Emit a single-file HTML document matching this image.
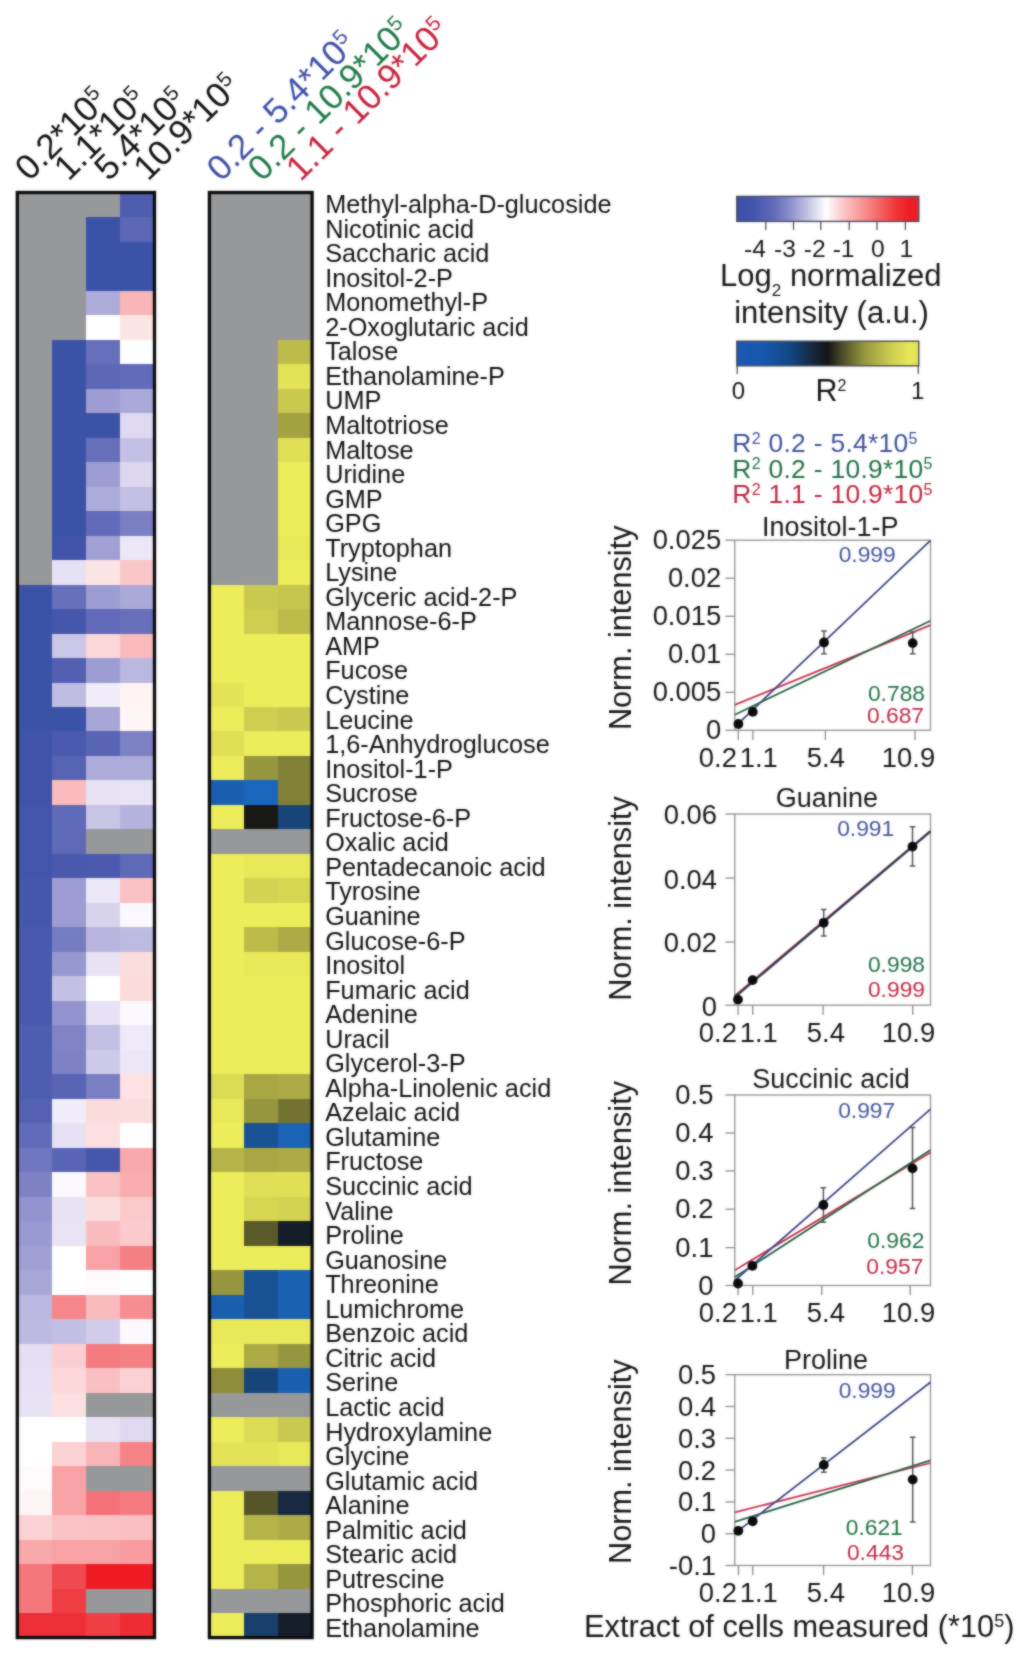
<!DOCTYPE html>
<html lang="en">
<head>
<meta charset="utf-8">
<title>Figure</title>
<style>
html,body{margin:0;padding:0;background:#fff;}
body{width:1024px;height:1653px;overflow:hidden;font-family:"Liberation Sans",sans-serif;}
svg{display:block;}
</style>
</head>
<body>
<svg width="1024" height="1653" viewBox="0 0 1024 1653">
<rect width="1024" height="1653" fill="#fff"/>
<defs><filter id="soft" x="0" y="0" width="1024" height="1653" filterUnits="userSpaceOnUse" color-interpolation-filters="sRGB"><feGaussianBlur stdDeviation="0.9" result="b"/><feComposite in="SourceGraphic" in2="b" operator="arithmetic" k1="0" k2="0.45" k3="0.55" k4="0"/></filter></defs>
<g filter="url(#soft)">
<rect width="1024" height="1653" fill="#fff"/>
<g shape-rendering="crispEdges">
<rect x="17.50" y="192.70" width="34.50" height="24.79" fill="#97989a"/>
<rect x="51.70" y="192.70" width="34.50" height="24.79" fill="#97989a"/>
<rect x="85.90" y="192.70" width="34.50" height="24.79" fill="#97989a"/>
<rect x="120.10" y="192.70" width="34.50" height="24.79" fill="#4f5db0"/>
<rect x="209.60" y="192.70" width="34.40" height="24.79" fill="#97989a"/>
<rect x="243.70" y="192.70" width="34.40" height="24.79" fill="#97989a"/>
<rect x="277.80" y="192.70" width="34.40" height="24.79" fill="#97989a"/>
<rect x="17.50" y="217.19" width="34.50" height="24.79" fill="#97989a"/>
<rect x="51.70" y="217.19" width="34.50" height="24.79" fill="#97989a"/>
<rect x="85.90" y="217.19" width="34.50" height="24.79" fill="#3b53a7"/>
<rect x="120.10" y="217.19" width="34.50" height="24.79" fill="#5c67b6"/>
<rect x="209.60" y="217.19" width="34.40" height="24.79" fill="#97989a"/>
<rect x="243.70" y="217.19" width="34.40" height="24.79" fill="#97989a"/>
<rect x="277.80" y="217.19" width="34.40" height="24.79" fill="#97989a"/>
<rect x="17.50" y="241.68" width="34.50" height="24.79" fill="#97989a"/>
<rect x="51.70" y="241.68" width="34.50" height="24.79" fill="#97989a"/>
<rect x="85.90" y="241.68" width="34.50" height="24.79" fill="#3b53a7"/>
<rect x="120.10" y="241.68" width="34.50" height="24.79" fill="#3b53a7"/>
<rect x="209.60" y="241.68" width="34.40" height="24.79" fill="#97989a"/>
<rect x="243.70" y="241.68" width="34.40" height="24.79" fill="#97989a"/>
<rect x="277.80" y="241.68" width="34.40" height="24.79" fill="#97989a"/>
<rect x="17.50" y="266.17" width="34.50" height="24.79" fill="#97989a"/>
<rect x="51.70" y="266.17" width="34.50" height="24.79" fill="#97989a"/>
<rect x="85.90" y="266.17" width="34.50" height="24.79" fill="#3b53a7"/>
<rect x="120.10" y="266.17" width="34.50" height="24.79" fill="#3b53a7"/>
<rect x="209.60" y="266.17" width="34.40" height="24.79" fill="#97989a"/>
<rect x="243.70" y="266.17" width="34.40" height="24.79" fill="#97989a"/>
<rect x="277.80" y="266.17" width="34.40" height="24.79" fill="#97989a"/>
<rect x="17.50" y="290.66" width="34.50" height="24.79" fill="#97989a"/>
<rect x="51.70" y="290.66" width="34.50" height="24.79" fill="#97989a"/>
<rect x="85.90" y="290.66" width="34.50" height="24.79" fill="#adabda"/>
<rect x="120.10" y="290.66" width="34.50" height="24.79" fill="#f9b4b7"/>
<rect x="209.60" y="290.66" width="34.40" height="24.79" fill="#97989a"/>
<rect x="243.70" y="290.66" width="34.40" height="24.79" fill="#97989a"/>
<rect x="277.80" y="290.66" width="34.40" height="24.79" fill="#97989a"/>
<rect x="17.50" y="315.15" width="34.50" height="24.79" fill="#97989a"/>
<rect x="51.70" y="315.15" width="34.50" height="24.79" fill="#97989a"/>
<rect x="85.90" y="315.15" width="34.50" height="24.79" fill="#ffffff"/>
<rect x="120.10" y="315.15" width="34.50" height="24.79" fill="#fde4e5"/>
<rect x="209.60" y="315.15" width="34.40" height="24.79" fill="#97989a"/>
<rect x="243.70" y="315.15" width="34.40" height="24.79" fill="#97989a"/>
<rect x="277.80" y="315.15" width="34.40" height="24.79" fill="#97989a"/>
<rect x="17.50" y="339.64" width="34.50" height="24.79" fill="#97989a"/>
<rect x="51.70" y="339.64" width="34.50" height="24.79" fill="#3b53a7"/>
<rect x="85.90" y="339.64" width="34.50" height="24.79" fill="#666fba"/>
<rect x="120.10" y="339.64" width="34.50" height="24.79" fill="#ffffff"/>
<rect x="209.60" y="339.64" width="34.40" height="24.79" fill="#97989a"/>
<rect x="243.70" y="339.64" width="34.40" height="24.79" fill="#97989a"/>
<rect x="277.80" y="339.64" width="34.40" height="24.79" fill="#bdbc4b"/>
<rect x="17.50" y="364.13" width="34.50" height="24.79" fill="#97989a"/>
<rect x="51.70" y="364.13" width="34.50" height="24.79" fill="#3b53a7"/>
<rect x="85.90" y="364.13" width="34.50" height="24.79" fill="#5c67b6"/>
<rect x="120.10" y="364.13" width="34.50" height="24.79" fill="#626bb9"/>
<rect x="209.60" y="364.13" width="34.40" height="24.79" fill="#97989a"/>
<rect x="243.70" y="364.13" width="34.40" height="24.79" fill="#97989a"/>
<rect x="277.80" y="364.13" width="34.40" height="24.79" fill="#e4e357"/>
<rect x="17.50" y="388.62" width="34.50" height="24.79" fill="#97989a"/>
<rect x="51.70" y="388.62" width="34.50" height="24.79" fill="#3b53a7"/>
<rect x="85.90" y="388.62" width="34.50" height="24.79" fill="#9d9dd3"/>
<rect x="120.10" y="388.62" width="34.50" height="24.79" fill="#aba9d9"/>
<rect x="209.60" y="388.62" width="34.40" height="24.79" fill="#97989a"/>
<rect x="243.70" y="388.62" width="34.40" height="24.79" fill="#97989a"/>
<rect x="277.80" y="388.62" width="34.40" height="24.79" fill="#cac94f"/>
<rect x="17.50" y="413.11" width="34.50" height="24.79" fill="#97989a"/>
<rect x="51.70" y="413.11" width="34.50" height="24.79" fill="#3b53a7"/>
<rect x="85.90" y="413.11" width="34.50" height="24.79" fill="#3b53a7"/>
<rect x="120.10" y="413.11" width="34.50" height="24.79" fill="#ded9f0"/>
<rect x="209.60" y="413.11" width="34.40" height="24.79" fill="#97989a"/>
<rect x="243.70" y="413.11" width="34.40" height="24.79" fill="#97989a"/>
<rect x="277.80" y="413.11" width="34.40" height="24.79" fill="#a3a342"/>
<rect x="17.50" y="437.60" width="34.50" height="24.79" fill="#97989a"/>
<rect x="51.70" y="437.60" width="34.50" height="24.79" fill="#3b53a7"/>
<rect x="85.90" y="437.60" width="34.50" height="24.79" fill="#666fba"/>
<rect x="120.10" y="437.60" width="34.50" height="24.79" fill="#c4c0e5"/>
<rect x="209.60" y="437.60" width="34.40" height="24.79" fill="#97989a"/>
<rect x="243.70" y="437.60" width="34.40" height="24.79" fill="#97989a"/>
<rect x="277.80" y="437.60" width="34.40" height="24.79" fill="#e0df56"/>
<rect x="17.50" y="462.09" width="34.50" height="24.79" fill="#97989a"/>
<rect x="51.70" y="462.09" width="34.50" height="24.79" fill="#3b53a7"/>
<rect x="85.90" y="462.09" width="34.50" height="24.79" fill="#9d9dd3"/>
<rect x="120.10" y="462.09" width="34.50" height="24.79" fill="#dcd7ef"/>
<rect x="209.60" y="462.09" width="34.40" height="24.79" fill="#97989a"/>
<rect x="243.70" y="462.09" width="34.40" height="24.79" fill="#97989a"/>
<rect x="277.80" y="462.09" width="34.40" height="24.79" fill="#edec5a"/>
<rect x="17.50" y="486.58" width="34.50" height="24.79" fill="#97989a"/>
<rect x="51.70" y="486.58" width="34.50" height="24.79" fill="#3b53a7"/>
<rect x="85.90" y="486.58" width="34.50" height="24.79" fill="#adabda"/>
<rect x="120.10" y="486.58" width="34.50" height="24.79" fill="#c4c0e5"/>
<rect x="209.60" y="486.58" width="34.40" height="24.79" fill="#97989a"/>
<rect x="243.70" y="486.58" width="34.40" height="24.79" fill="#97989a"/>
<rect x="277.80" y="486.58" width="34.40" height="24.79" fill="#edec5a"/>
<rect x="17.50" y="511.07" width="34.50" height="24.79" fill="#97989a"/>
<rect x="51.70" y="511.07" width="34.50" height="24.79" fill="#3b53a7"/>
<rect x="85.90" y="511.07" width="34.50" height="24.79" fill="#626bb9"/>
<rect x="120.10" y="511.07" width="34.50" height="24.79" fill="#7a7fc3"/>
<rect x="209.60" y="511.07" width="34.40" height="24.79" fill="#97989a"/>
<rect x="243.70" y="511.07" width="34.40" height="24.79" fill="#97989a"/>
<rect x="277.80" y="511.07" width="34.40" height="24.79" fill="#edec5a"/>
<rect x="17.50" y="535.56" width="34.50" height="24.79" fill="#97989a"/>
<rect x="51.70" y="535.56" width="34.50" height="24.79" fill="#4154aa"/>
<rect x="85.90" y="535.56" width="34.50" height="24.79" fill="#a1a0d5"/>
<rect x="120.10" y="535.56" width="34.50" height="24.79" fill="#ebe7f6"/>
<rect x="209.60" y="535.56" width="34.40" height="24.79" fill="#97989a"/>
<rect x="243.70" y="535.56" width="34.40" height="24.79" fill="#97989a"/>
<rect x="277.80" y="535.56" width="34.40" height="24.79" fill="#e9e859"/>
<rect x="17.50" y="560.05" width="34.50" height="24.79" fill="#97989a"/>
<rect x="51.70" y="560.05" width="34.50" height="24.79" fill="#e6e1f4"/>
<rect x="85.90" y="560.05" width="34.50" height="24.79" fill="#fde4e5"/>
<rect x="120.10" y="560.05" width="34.50" height="24.79" fill="#fac6c8"/>
<rect x="209.60" y="560.05" width="34.40" height="24.79" fill="#97989a"/>
<rect x="243.70" y="560.05" width="34.40" height="24.79" fill="#97989a"/>
<rect x="277.80" y="560.05" width="34.40" height="24.79" fill="#edec5a"/>
<rect x="17.50" y="584.54" width="34.50" height="24.79" fill="#3b53a7"/>
<rect x="51.70" y="584.54" width="34.50" height="24.79" fill="#666fba"/>
<rect x="85.90" y="584.54" width="34.50" height="24.79" fill="#9d9dd3"/>
<rect x="120.10" y="584.54" width="34.50" height="24.79" fill="#aba9d9"/>
<rect x="209.60" y="584.54" width="34.40" height="24.79" fill="#edec5a"/>
<rect x="243.70" y="584.54" width="34.40" height="24.79" fill="#cac94f"/>
<rect x="277.80" y="584.54" width="34.40" height="24.79" fill="#c6c54d"/>
<rect x="17.50" y="609.03" width="34.50" height="24.79" fill="#3b53a7"/>
<rect x="51.70" y="609.03" width="34.50" height="24.79" fill="#4557ab"/>
<rect x="85.90" y="609.03" width="34.50" height="24.79" fill="#626bb9"/>
<rect x="120.10" y="609.03" width="34.50" height="24.79" fill="#666fba"/>
<rect x="209.60" y="609.03" width="34.40" height="24.79" fill="#edec5a"/>
<rect x="243.70" y="609.03" width="34.40" height="24.79" fill="#cfce50"/>
<rect x="277.80" y="609.03" width="34.40" height="24.79" fill="#bdbc4b"/>
<rect x="17.50" y="633.52" width="34.50" height="24.79" fill="#3b53a7"/>
<rect x="51.70" y="633.52" width="34.50" height="24.79" fill="#cac6e7"/>
<rect x="85.90" y="633.52" width="34.50" height="24.79" fill="#fcd8da"/>
<rect x="120.10" y="633.52" width="34.50" height="24.79" fill="#fabbbd"/>
<rect x="209.60" y="633.52" width="34.40" height="24.79" fill="#edec5a"/>
<rect x="243.70" y="633.52" width="34.40" height="24.79" fill="#edec5a"/>
<rect x="277.80" y="633.52" width="34.40" height="24.79" fill="#edec5a"/>
<rect x="17.50" y="658.01" width="34.50" height="24.79" fill="#3b53a7"/>
<rect x="51.70" y="658.01" width="34.50" height="24.79" fill="#5360b2"/>
<rect x="85.90" y="658.01" width="34.50" height="24.79" fill="#9d9dd3"/>
<rect x="120.10" y="658.01" width="34.50" height="24.79" fill="#bab8e0"/>
<rect x="209.60" y="658.01" width="34.40" height="24.79" fill="#edec5a"/>
<rect x="243.70" y="658.01" width="34.40" height="24.79" fill="#edec5a"/>
<rect x="277.80" y="658.01" width="34.40" height="24.79" fill="#edec5a"/>
<rect x="17.50" y="682.50" width="34.50" height="24.79" fill="#3b53a7"/>
<rect x="51.70" y="682.50" width="34.50" height="24.79" fill="#c0bde3"/>
<rect x="85.90" y="682.50" width="34.50" height="24.79" fill="#f1edf9"/>
<rect x="120.10" y="682.50" width="34.50" height="24.79" fill="#fef4f4"/>
<rect x="209.60" y="682.50" width="34.40" height="24.79" fill="#e4e357"/>
<rect x="243.70" y="682.50" width="34.40" height="24.79" fill="#edec5a"/>
<rect x="277.80" y="682.50" width="34.40" height="24.79" fill="#edec5a"/>
<rect x="17.50" y="706.99" width="34.50" height="24.79" fill="#3b53a7"/>
<rect x="51.70" y="706.99" width="34.50" height="24.79" fill="#3b53a7"/>
<rect x="85.90" y="706.99" width="34.50" height="24.79" fill="#a7a6d7"/>
<rect x="120.10" y="706.99" width="34.50" height="24.79" fill="#fef6f6"/>
<rect x="209.60" y="706.99" width="34.40" height="24.79" fill="#edec5a"/>
<rect x="243.70" y="706.99" width="34.40" height="24.79" fill="#cfce50"/>
<rect x="277.80" y="706.99" width="34.40" height="24.79" fill="#cac94f"/>
<rect x="17.50" y="731.48" width="34.50" height="24.79" fill="#3f53a9"/>
<rect x="51.70" y="731.48" width="34.50" height="24.79" fill="#4b5aae"/>
<rect x="85.90" y="731.48" width="34.50" height="24.79" fill="#5864b4"/>
<rect x="120.10" y="731.48" width="34.50" height="24.79" fill="#7c81c4"/>
<rect x="209.60" y="731.48" width="34.40" height="24.79" fill="#e0df56"/>
<rect x="243.70" y="731.48" width="34.40" height="24.79" fill="#edec5a"/>
<rect x="277.80" y="731.48" width="34.40" height="24.79" fill="#edec5a"/>
<rect x="17.50" y="755.97" width="34.50" height="24.79" fill="#3f53a9"/>
<rect x="51.70" y="755.97" width="34.50" height="24.79" fill="#5663b3"/>
<rect x="85.90" y="755.97" width="34.50" height="24.79" fill="#adabda"/>
<rect x="120.10" y="755.97" width="34.50" height="24.79" fill="#adabda"/>
<rect x="209.60" y="755.97" width="34.40" height="24.79" fill="#edec5a"/>
<rect x="243.70" y="755.97" width="34.40" height="24.79" fill="#96963e"/>
<rect x="277.80" y="755.97" width="34.40" height="24.79" fill="#808037"/>
<rect x="17.50" y="780.46" width="34.50" height="24.79" fill="#3f53a9"/>
<rect x="51.70" y="780.46" width="34.50" height="24.79" fill="#fabbbd"/>
<rect x="85.90" y="780.46" width="34.50" height="24.79" fill="#e7e2f4"/>
<rect x="120.10" y="780.46" width="34.50" height="24.79" fill="#e9e4f5"/>
<rect x="209.60" y="780.46" width="34.40" height="24.79" fill="#1a5faf"/>
<rect x="243.70" y="780.46" width="34.40" height="24.79" fill="#1a66bc"/>
<rect x="277.80" y="780.46" width="34.40" height="24.79" fill="#808037"/>
<rect x="17.50" y="804.95" width="34.50" height="24.79" fill="#4355ab"/>
<rect x="51.70" y="804.95" width="34.50" height="24.79" fill="#5e69b7"/>
<rect x="85.90" y="804.95" width="34.50" height="24.79" fill="#c8c4e6"/>
<rect x="120.10" y="804.95" width="34.50" height="24.79" fill="#b6b3de"/>
<rect x="209.60" y="804.95" width="34.40" height="24.79" fill="#edec5a"/>
<rect x="243.70" y="804.95" width="34.40" height="24.79" fill="#181815"/>
<rect x="277.80" y="804.95" width="34.40" height="24.79" fill="#184579"/>
<rect x="17.50" y="829.44" width="34.50" height="24.79" fill="#4355ab"/>
<rect x="51.70" y="829.44" width="34.50" height="24.79" fill="#5e69b7"/>
<rect x="85.90" y="829.44" width="34.50" height="24.79" fill="#97989a"/>
<rect x="120.10" y="829.44" width="34.50" height="24.79" fill="#97989a"/>
<rect x="209.60" y="829.44" width="34.40" height="24.79" fill="#97989a"/>
<rect x="243.70" y="829.44" width="34.40" height="24.79" fill="#97989a"/>
<rect x="277.80" y="829.44" width="34.40" height="24.79" fill="#97989a"/>
<rect x="17.50" y="853.93" width="34.50" height="24.79" fill="#4355ab"/>
<rect x="51.70" y="853.93" width="34.50" height="24.79" fill="#4959ad"/>
<rect x="85.90" y="853.93" width="34.50" height="24.79" fill="#4b5aae"/>
<rect x="120.10" y="853.93" width="34.50" height="24.79" fill="#5e69b7"/>
<rect x="209.60" y="853.93" width="34.40" height="24.79" fill="#edec5a"/>
<rect x="243.70" y="853.93" width="34.40" height="24.79" fill="#e9e859"/>
<rect x="277.80" y="853.93" width="34.40" height="24.79" fill="#e9e859"/>
<rect x="17.50" y="878.42" width="34.50" height="24.79" fill="#4557ab"/>
<rect x="51.70" y="878.42" width="34.50" height="24.79" fill="#9d9dd3"/>
<rect x="85.90" y="878.42" width="34.50" height="24.79" fill="#ebe7f6"/>
<rect x="120.10" y="878.42" width="34.50" height="24.79" fill="#fac2c4"/>
<rect x="209.60" y="878.42" width="34.40" height="24.79" fill="#edec5a"/>
<rect x="243.70" y="878.42" width="34.40" height="24.79" fill="#d3d252"/>
<rect x="277.80" y="878.42" width="34.40" height="24.79" fill="#d7d653"/>
<rect x="17.50" y="902.91" width="34.50" height="24.79" fill="#4557ab"/>
<rect x="51.70" y="902.91" width="34.50" height="24.79" fill="#9d9dd3"/>
<rect x="85.90" y="902.91" width="34.50" height="24.79" fill="#d8d3ed"/>
<rect x="120.10" y="902.91" width="34.50" height="24.79" fill="#fbf9fd"/>
<rect x="209.60" y="902.91" width="34.40" height="24.79" fill="#edec5a"/>
<rect x="243.70" y="902.91" width="34.40" height="24.79" fill="#edec5a"/>
<rect x="277.80" y="902.91" width="34.40" height="24.79" fill="#edec5a"/>
<rect x="17.50" y="927.40" width="34.50" height="24.79" fill="#4959ad"/>
<rect x="51.70" y="927.40" width="34.50" height="24.79" fill="#767cc1"/>
<rect x="85.90" y="927.40" width="34.50" height="24.79" fill="#b8b5df"/>
<rect x="120.10" y="927.40" width="34.50" height="24.79" fill="#bebbe2"/>
<rect x="209.60" y="927.40" width="34.40" height="24.79" fill="#edec5a"/>
<rect x="243.70" y="927.40" width="34.40" height="24.79" fill="#bdbc4b"/>
<rect x="277.80" y="927.40" width="34.40" height="24.79" fill="#acab45"/>
<rect x="17.50" y="951.89" width="34.50" height="24.79" fill="#4959ad"/>
<rect x="51.70" y="951.89" width="34.50" height="24.79" fill="#9798d0"/>
<rect x="85.90" y="951.89" width="34.50" height="24.79" fill="#e7e2f4"/>
<rect x="120.10" y="951.89" width="34.50" height="24.79" fill="#fcddde"/>
<rect x="209.60" y="951.89" width="34.40" height="24.79" fill="#edec5a"/>
<rect x="243.70" y="951.89" width="34.40" height="24.79" fill="#e9e859"/>
<rect x="277.80" y="951.89" width="34.40" height="24.79" fill="#e9e859"/>
<rect x="17.50" y="976.38" width="34.50" height="24.79" fill="#4959ad"/>
<rect x="51.70" y="976.38" width="34.50" height="24.79" fill="#c4c0e5"/>
<rect x="85.90" y="976.38" width="34.50" height="24.79" fill="#ffffff"/>
<rect x="120.10" y="976.38" width="34.50" height="24.79" fill="#fcdbdc"/>
<rect x="209.60" y="976.38" width="34.40" height="24.79" fill="#edec5a"/>
<rect x="243.70" y="976.38" width="34.40" height="24.79" fill="#edec5a"/>
<rect x="277.80" y="976.38" width="34.40" height="24.79" fill="#edec5a"/>
<rect x="17.50" y="1000.87" width="34.50" height="24.79" fill="#4959ad"/>
<rect x="51.70" y="1000.87" width="34.50" height="24.79" fill="#9394cf"/>
<rect x="85.90" y="1000.87" width="34.50" height="24.79" fill="#e6e1f4"/>
<rect x="120.10" y="1000.87" width="34.50" height="24.79" fill="#fbf9fd"/>
<rect x="209.60" y="1000.87" width="34.40" height="24.79" fill="#edec5a"/>
<rect x="243.70" y="1000.87" width="34.40" height="24.79" fill="#edec5a"/>
<rect x="277.80" y="1000.87" width="34.40" height="24.79" fill="#edec5a"/>
<rect x="17.50" y="1025.36" width="34.50" height="24.79" fill="#4f5db0"/>
<rect x="51.70" y="1025.36" width="34.50" height="24.79" fill="#8084c6"/>
<rect x="85.90" y="1025.36" width="34.50" height="24.79" fill="#c4c0e5"/>
<rect x="120.10" y="1025.36" width="34.50" height="24.79" fill="#efeaf8"/>
<rect x="209.60" y="1025.36" width="34.40" height="24.79" fill="#edec5a"/>
<rect x="243.70" y="1025.36" width="34.40" height="24.79" fill="#edec5a"/>
<rect x="277.80" y="1025.36" width="34.40" height="24.79" fill="#edec5a"/>
<rect x="17.50" y="1049.85" width="34.50" height="24.79" fill="#4f5db0"/>
<rect x="51.70" y="1049.85" width="34.50" height="24.79" fill="#7e82c5"/>
<rect x="85.90" y="1049.85" width="34.50" height="24.79" fill="#cecae9"/>
<rect x="120.10" y="1049.85" width="34.50" height="24.79" fill="#ebe7f6"/>
<rect x="209.60" y="1049.85" width="34.40" height="24.79" fill="#edec5a"/>
<rect x="243.70" y="1049.85" width="34.40" height="24.79" fill="#edec5a"/>
<rect x="277.80" y="1049.85" width="34.40" height="24.79" fill="#edec5a"/>
<rect x="17.50" y="1074.34" width="34.50" height="24.79" fill="#4f5db0"/>
<rect x="51.70" y="1074.34" width="34.50" height="24.79" fill="#5864b4"/>
<rect x="85.90" y="1074.34" width="34.50" height="24.79" fill="#7a7fc3"/>
<rect x="120.10" y="1074.34" width="34.50" height="24.79" fill="#fde1e3"/>
<rect x="209.60" y="1074.34" width="34.40" height="24.79" fill="#dcdb54"/>
<rect x="243.70" y="1074.34" width="34.40" height="24.79" fill="#a8a744"/>
<rect x="277.80" y="1074.34" width="34.40" height="24.79" fill="#acab45"/>
<rect x="17.50" y="1098.83" width="34.50" height="24.79" fill="#5461b2"/>
<rect x="51.70" y="1098.83" width="34.50" height="24.79" fill="#f1edf9"/>
<rect x="85.90" y="1098.83" width="34.50" height="24.79" fill="#fcdbdc"/>
<rect x="120.10" y="1098.83" width="34.50" height="24.79" fill="#fcddde"/>
<rect x="209.60" y="1098.83" width="34.40" height="24.79" fill="#e9e859"/>
<rect x="243.70" y="1098.83" width="34.40" height="24.79" fill="#96963e"/>
<rect x="277.80" y="1098.83" width="34.40" height="24.79" fill="#737333"/>
<rect x="17.50" y="1123.32" width="34.50" height="24.79" fill="#626bb9"/>
<rect x="51.70" y="1123.32" width="34.50" height="24.79" fill="#e6e1f4"/>
<rect x="85.90" y="1123.32" width="34.50" height="24.79" fill="#fcdfe0"/>
<rect x="120.10" y="1123.32" width="34.50" height="24.79" fill="#ffffff"/>
<rect x="209.60" y="1123.32" width="34.40" height="24.79" fill="#edec5a"/>
<rect x="243.70" y="1123.32" width="34.40" height="24.79" fill="#195294"/>
<rect x="277.80" y="1123.32" width="34.40" height="24.79" fill="#1a63b5"/>
<rect x="17.50" y="1147.81" width="34.50" height="24.79" fill="#7076bf"/>
<rect x="51.70" y="1147.81" width="34.50" height="24.79" fill="#5864b4"/>
<rect x="85.90" y="1147.81" width="34.50" height="24.79" fill="#4557ab"/>
<rect x="120.10" y="1147.81" width="34.50" height="24.79" fill="#f8a9ac"/>
<rect x="209.60" y="1147.81" width="34.40" height="24.79" fill="#b5b448"/>
<rect x="243.70" y="1147.81" width="34.40" height="24.79" fill="#a8a744"/>
<rect x="277.80" y="1147.81" width="34.40" height="24.79" fill="#acab45"/>
<rect x="17.50" y="1172.30" width="34.50" height="24.79" fill="#7e82c5"/>
<rect x="51.70" y="1172.30" width="34.50" height="24.79" fill="#fbf9fd"/>
<rect x="85.90" y="1172.30" width="34.50" height="24.79" fill="#fac2c4"/>
<rect x="120.10" y="1172.30" width="34.50" height="24.79" fill="#f9adb0"/>
<rect x="209.60" y="1172.30" width="34.40" height="24.79" fill="#edec5a"/>
<rect x="243.70" y="1172.30" width="34.40" height="24.79" fill="#e0df56"/>
<rect x="277.80" y="1172.30" width="34.40" height="24.79" fill="#e0df56"/>
<rect x="17.50" y="1196.79" width="34.50" height="24.79" fill="#9394cf"/>
<rect x="51.70" y="1196.79" width="34.50" height="24.79" fill="#e7e2f4"/>
<rect x="85.90" y="1196.79" width="34.50" height="24.79" fill="#fcddde"/>
<rect x="120.10" y="1196.79" width="34.50" height="24.79" fill="#fbc9ca"/>
<rect x="209.60" y="1196.79" width="34.40" height="24.79" fill="#edec5a"/>
<rect x="243.70" y="1196.79" width="34.40" height="24.79" fill="#d7d653"/>
<rect x="277.80" y="1196.79" width="34.40" height="24.79" fill="#d3d252"/>
<rect x="17.50" y="1221.28" width="34.50" height="24.79" fill="#999ad1"/>
<rect x="51.70" y="1221.28" width="34.50" height="24.79" fill="#e9e4f5"/>
<rect x="85.90" y="1221.28" width="34.50" height="24.79" fill="#fabdbf"/>
<rect x="120.10" y="1221.28" width="34.50" height="24.79" fill="#fbcbcd"/>
<rect x="209.60" y="1221.28" width="34.40" height="24.79" fill="#edec5a"/>
<rect x="243.70" y="1221.28" width="34.40" height="24.79" fill="#59592a"/>
<rect x="277.80" y="1221.28" width="34.40" height="24.79" fill="#151e28"/>
<rect x="17.50" y="1245.77" width="34.50" height="24.79" fill="#9f9fd4"/>
<rect x="51.70" y="1245.77" width="34.50" height="24.79" fill="#ffffff"/>
<rect x="85.90" y="1245.77" width="34.50" height="24.79" fill="#f8a2a5"/>
<rect x="120.10" y="1245.77" width="34.50" height="24.79" fill="#f58084"/>
<rect x="209.60" y="1245.77" width="34.40" height="24.79" fill="#edec5a"/>
<rect x="243.70" y="1245.77" width="34.40" height="24.79" fill="#edec5a"/>
<rect x="277.80" y="1245.77" width="34.40" height="24.79" fill="#edec5a"/>
<rect x="17.50" y="1270.26" width="34.50" height="24.79" fill="#a9a7d8"/>
<rect x="51.70" y="1270.26" width="34.50" height="24.79" fill="#ffffff"/>
<rect x="85.90" y="1270.26" width="34.50" height="24.79" fill="#fffafb"/>
<rect x="120.10" y="1270.26" width="34.50" height="24.79" fill="#ffffff"/>
<rect x="209.60" y="1270.26" width="34.40" height="24.79" fill="#96963e"/>
<rect x="243.70" y="1270.26" width="34.40" height="24.79" fill="#195294"/>
<rect x="277.80" y="1270.26" width="34.40" height="24.79" fill="#1a61b2"/>
<rect x="17.50" y="1294.75" width="34.50" height="24.79" fill="#bab8e0"/>
<rect x="51.70" y="1294.75" width="34.50" height="24.79" fill="#f5878b"/>
<rect x="85.90" y="1294.75" width="34.50" height="24.79" fill="#fabbbd"/>
<rect x="120.10" y="1294.75" width="34.50" height="24.79" fill="#f68e92"/>
<rect x="209.60" y="1294.75" width="34.40" height="24.79" fill="#1a5faf"/>
<rect x="243.70" y="1294.75" width="34.40" height="24.79" fill="#195294"/>
<rect x="277.80" y="1294.75" width="34.40" height="24.79" fill="#1a61b2"/>
<rect x="17.50" y="1319.24" width="34.50" height="24.79" fill="#bcbae1"/>
<rect x="51.70" y="1319.24" width="34.50" height="24.79" fill="#c2bfe4"/>
<rect x="85.90" y="1319.24" width="34.50" height="24.79" fill="#d0ccea"/>
<rect x="120.10" y="1319.24" width="34.50" height="24.79" fill="#fbf9fd"/>
<rect x="209.60" y="1319.24" width="34.40" height="24.79" fill="#e9e859"/>
<rect x="243.70" y="1319.24" width="34.40" height="24.79" fill="#e9e859"/>
<rect x="277.80" y="1319.24" width="34.40" height="24.79" fill="#e9e859"/>
<rect x="17.50" y="1343.73" width="34.50" height="24.79" fill="#e4dff3"/>
<rect x="51.70" y="1343.73" width="34.50" height="24.79" fill="#fbcfd1"/>
<rect x="85.90" y="1343.73" width="34.50" height="24.79" fill="#f57b80"/>
<rect x="120.10" y="1343.73" width="34.50" height="24.79" fill="#f58084"/>
<rect x="209.60" y="1343.73" width="34.40" height="24.79" fill="#edec5a"/>
<rect x="243.70" y="1343.73" width="34.40" height="24.79" fill="#acab45"/>
<rect x="277.80" y="1343.73" width="34.40" height="24.79" fill="#96963e"/>
<rect x="17.50" y="1368.22" width="34.50" height="24.79" fill="#e6e1f4"/>
<rect x="51.70" y="1368.22" width="34.50" height="24.79" fill="#fcd8da"/>
<rect x="85.90" y="1368.22" width="34.50" height="24.79" fill="#fabfc2"/>
<rect x="120.10" y="1368.22" width="34.50" height="24.79" fill="#fbd2d3"/>
<rect x="209.60" y="1368.22" width="34.40" height="24.79" fill="#8e8d3b"/>
<rect x="243.70" y="1368.22" width="34.40" height="24.79" fill="#184579"/>
<rect x="277.80" y="1368.22" width="34.40" height="24.79" fill="#1a5faf"/>
<rect x="17.50" y="1392.71" width="34.50" height="24.79" fill="#e7e2f4"/>
<rect x="51.70" y="1392.71" width="34.50" height="24.79" fill="#fcdfe0"/>
<rect x="85.90" y="1392.71" width="34.50" height="24.79" fill="#97989a"/>
<rect x="120.10" y="1392.71" width="34.50" height="24.79" fill="#97989a"/>
<rect x="209.60" y="1392.71" width="34.40" height="24.79" fill="#97989a"/>
<rect x="243.70" y="1392.71" width="34.40" height="24.79" fill="#97989a"/>
<rect x="277.80" y="1392.71" width="34.40" height="24.79" fill="#97989a"/>
<rect x="17.50" y="1417.20" width="34.50" height="24.79" fill="#ffffff"/>
<rect x="51.70" y="1417.20" width="34.50" height="24.79" fill="#ffffff"/>
<rect x="85.90" y="1417.20" width="34.50" height="24.79" fill="#e7e2f4"/>
<rect x="120.10" y="1417.20" width="34.50" height="24.79" fill="#ded9f0"/>
<rect x="209.60" y="1417.20" width="34.40" height="24.79" fill="#edec5a"/>
<rect x="243.70" y="1417.20" width="34.40" height="24.79" fill="#dcdb54"/>
<rect x="277.80" y="1417.20" width="34.40" height="24.79" fill="#cac94f"/>
<rect x="17.50" y="1441.69" width="34.50" height="24.79" fill="#ffffff"/>
<rect x="51.70" y="1441.69" width="34.50" height="24.79" fill="#fbd2d3"/>
<rect x="85.90" y="1441.69" width="34.50" height="24.79" fill="#f9b4b7"/>
<rect x="120.10" y="1441.69" width="34.50" height="24.79" fill="#f58287"/>
<rect x="209.60" y="1441.69" width="34.40" height="24.79" fill="#e4e357"/>
<rect x="243.70" y="1441.69" width="34.40" height="24.79" fill="#e4e357"/>
<rect x="277.80" y="1441.69" width="34.40" height="24.79" fill="#e9e859"/>
<rect x="17.50" y="1466.18" width="34.50" height="24.79" fill="#fffafb"/>
<rect x="51.70" y="1466.18" width="34.50" height="24.79" fill="#f8a2a5"/>
<rect x="85.90" y="1466.18" width="34.50" height="24.79" fill="#97989a"/>
<rect x="120.10" y="1466.18" width="34.50" height="24.79" fill="#97989a"/>
<rect x="209.60" y="1466.18" width="34.40" height="24.79" fill="#97989a"/>
<rect x="243.70" y="1466.18" width="34.40" height="24.79" fill="#97989a"/>
<rect x="277.80" y="1466.18" width="34.40" height="24.79" fill="#97989a"/>
<rect x="17.50" y="1490.67" width="34.50" height="24.79" fill="#fef6f6"/>
<rect x="51.70" y="1490.67" width="34.50" height="24.79" fill="#f8a4a7"/>
<rect x="85.90" y="1490.67" width="34.50" height="24.79" fill="#f47277"/>
<rect x="120.10" y="1490.67" width="34.50" height="24.79" fill="#f57b80"/>
<rect x="209.60" y="1490.67" width="34.40" height="24.79" fill="#edec5a"/>
<rect x="243.70" y="1490.67" width="34.40" height="24.79" fill="#555529"/>
<rect x="277.80" y="1490.67" width="34.40" height="24.79" fill="#162940"/>
<rect x="17.50" y="1515.16" width="34.50" height="24.79" fill="#fbd2d3"/>
<rect x="51.70" y="1515.16" width="34.50" height="24.79" fill="#fac4c6"/>
<rect x="85.90" y="1515.16" width="34.50" height="24.79" fill="#fac2c4"/>
<rect x="120.10" y="1515.16" width="34.50" height="24.79" fill="#fabfc2"/>
<rect x="209.60" y="1515.16" width="34.40" height="24.79" fill="#edec5a"/>
<rect x="243.70" y="1515.16" width="34.40" height="24.79" fill="#b5b448"/>
<rect x="277.80" y="1515.16" width="34.40" height="24.79" fill="#acab45"/>
<rect x="17.50" y="1539.65" width="34.50" height="24.79" fill="#f8a9ac"/>
<rect x="51.70" y="1539.65" width="34.50" height="24.79" fill="#f8a2a5"/>
<rect x="85.90" y="1539.65" width="34.50" height="24.79" fill="#f8a2a5"/>
<rect x="120.10" y="1539.65" width="34.50" height="24.79" fill="#f79b9f"/>
<rect x="209.60" y="1539.65" width="34.40" height="24.79" fill="#edec5a"/>
<rect x="243.70" y="1539.65" width="34.40" height="24.79" fill="#edec5a"/>
<rect x="277.80" y="1539.65" width="34.40" height="24.79" fill="#edec5a"/>
<rect x="17.50" y="1564.14" width="34.50" height="24.79" fill="#f4777c"/>
<rect x="51.70" y="1564.14" width="34.50" height="24.79" fill="#f14950"/>
<rect x="85.90" y="1564.14" width="34.50" height="24.79" fill="#ed1c24"/>
<rect x="120.10" y="1564.14" width="34.50" height="24.79" fill="#ed1c24"/>
<rect x="209.60" y="1564.14" width="34.40" height="24.79" fill="#edec5a"/>
<rect x="243.70" y="1564.14" width="34.40" height="24.79" fill="#b5b448"/>
<rect x="277.80" y="1564.14" width="34.40" height="24.79" fill="#96963e"/>
<rect x="17.50" y="1588.63" width="34.50" height="24.79" fill="#f4777c"/>
<rect x="51.70" y="1588.63" width="34.50" height="24.79" fill="#f03c43"/>
<rect x="85.90" y="1588.63" width="34.50" height="24.79" fill="#97989a"/>
<rect x="120.10" y="1588.63" width="34.50" height="24.79" fill="#97989a"/>
<rect x="209.60" y="1588.63" width="34.40" height="24.79" fill="#97989a"/>
<rect x="243.70" y="1588.63" width="34.40" height="24.79" fill="#97989a"/>
<rect x="277.80" y="1588.63" width="34.40" height="24.79" fill="#97989a"/>
<rect x="17.50" y="1613.12" width="34.50" height="24.79" fill="#ee2e36"/>
<rect x="51.70" y="1613.12" width="34.50" height="24.79" fill="#ee2e36"/>
<rect x="85.90" y="1613.12" width="34.50" height="24.79" fill="#f03e45"/>
<rect x="120.10" y="1613.12" width="34.50" height="24.79" fill="#ee2c33"/>
<rect x="209.60" y="1613.12" width="34.40" height="24.79" fill="#edec5a"/>
<rect x="243.70" y="1613.12" width="34.40" height="24.79" fill="#173f6b"/>
<rect x="277.80" y="1613.12" width="34.40" height="24.79" fill="#151f2c"/>
</g>
<rect x="17.30" y="192.50" width="137.20" height="1445.11" fill="none" stroke="#0a0a0a" stroke-width="3.3"/>
<rect x="209.40" y="192.50" width="102.70" height="1445.11" fill="none" stroke="#0a0a0a" stroke-width="3.3"/>
<g font-family="Liberation Sans, sans-serif" font-size="25.25" fill="#111">
<text x="325.2" y="213.00">Methyl-alpha-D-glucoside</text>
<text x="325.2" y="237.55">Nicotinic acid</text>
<text x="325.2" y="262.10">Saccharic acid</text>
<text x="325.2" y="286.65">Inositol-2-P</text>
<text x="325.2" y="311.20">Monomethyl-P</text>
<text x="325.2" y="335.75">2-Oxoglutaric acid</text>
<text x="325.2" y="360.30">Talose</text>
<text x="325.2" y="384.85">Ethanolamine-P</text>
<text x="325.2" y="409.40">UMP</text>
<text x="325.2" y="433.95">Maltotriose</text>
<text x="325.2" y="458.50">Maltose</text>
<text x="325.2" y="483.05">Uridine</text>
<text x="325.2" y="507.60">GMP</text>
<text x="325.2" y="532.15">GPG</text>
<text x="325.2" y="556.70">Tryptophan</text>
<text x="325.2" y="581.25">Lysine</text>
<text x="325.2" y="605.80">Glyceric acid-2-P</text>
<text x="325.2" y="630.35">Mannose-6-P</text>
<text x="325.2" y="654.90">AMP</text>
<text x="325.2" y="679.45">Fucose</text>
<text x="325.2" y="704.00">Cystine</text>
<text x="325.2" y="728.55">Leucine</text>
<text x="325.2" y="753.10">1,6-Anhydroglucose</text>
<text x="325.2" y="777.65">Inositol-1-P</text>
<text x="325.2" y="802.20">Sucrose</text>
<text x="325.2" y="826.75">Fructose-6-P</text>
<text x="325.2" y="851.30">Oxalic acid</text>
<text x="325.2" y="875.85">Pentadecanoic acid</text>
<text x="325.2" y="900.40">Tyrosine</text>
<text x="325.2" y="924.95">Guanine</text>
<text x="325.2" y="949.50">Glucose-6-P</text>
<text x="325.2" y="974.05">Inositol</text>
<text x="325.2" y="998.60">Fumaric acid</text>
<text x="325.2" y="1023.15">Adenine</text>
<text x="325.2" y="1047.70">Uracil</text>
<text x="325.2" y="1072.25">Glycerol-3-P</text>
<text x="325.2" y="1096.80">Alpha-Linolenic acid</text>
<text x="325.2" y="1121.35">Azelaic acid</text>
<text x="325.2" y="1145.90">Glutamine</text>
<text x="325.2" y="1170.45">Fructose</text>
<text x="325.2" y="1195.00">Succinic acid</text>
<text x="325.2" y="1219.55">Valine</text>
<text x="325.2" y="1244.10">Proline</text>
<text x="325.2" y="1268.65">Guanosine</text>
<text x="325.2" y="1293.20">Threonine</text>
<text x="325.2" y="1317.75">Lumichrome</text>
<text x="325.2" y="1342.30">Benzoic acid</text>
<text x="325.2" y="1366.85">Citric acid</text>
<text x="325.2" y="1391.40">Serine</text>
<text x="325.2" y="1415.95">Lactic acid</text>
<text x="325.2" y="1440.50">Hydroxylamine</text>
<text x="325.2" y="1465.05">Glycine</text>
<text x="325.2" y="1489.60">Glutamic acid</text>
<text x="325.2" y="1514.15">Alanine</text>
<text x="325.2" y="1538.70">Palmitic acid</text>
<text x="325.2" y="1563.25">Stearic acid</text>
<text x="325.2" y="1587.80">Putrescine</text>
<text x="325.2" y="1612.35">Phosphoric acid</text>
<text x="325.2" y="1636.90">Ethanolamine</text>
</g>
<g font-family="Liberation Sans, sans-serif" font-size="35">
<text transform="translate(29.5,182) rotate(-45)" fill="#111">0.2*10<tspan dy="-11.6" font-size="21.0">5</tspan></text>
<text transform="translate(68.5,182) rotate(-45)" fill="#111">1.1*10<tspan dy="-11.6" font-size="21.0">5</tspan></text>
<text transform="translate(108.7,182) rotate(-45)" fill="#111">5.4*10<tspan dy="-11.6" font-size="21.0">5</tspan></text>
<text transform="translate(148.0,182) rotate(-45)" fill="#111">10.9*10<tspan dy="-11.6" font-size="21.0">5</tspan></text>
<text transform="translate(221.2,182.5) rotate(-45)" fill="#3d50a5">0.2 - 5.4*10<tspan dy="-11.6" font-size="21.0">5</tspan></text>
<text transform="translate(262.3,182.5) rotate(-45)" fill="#1f7a48">0.2 - 10.9*10<tspan dy="-11.6" font-size="21.0">5</tspan></text>
<text transform="translate(300.5,182.5) rotate(-45)" fill="#c8203c">1.1 - 10.9*10<tspan dy="-11.6" font-size="21.0">5</tspan></text>
</g>
<defs><linearGradient id="g1" x1="0" x2="1" y1="0" y2="0"><stop offset="0" stop-color="#3c4fa6"/><stop offset="0.1" stop-color="#4557ad"/><stop offset="0.2" stop-color="#626ab9"/><stop offset="0.3" stop-color="#8e92cd"/><stop offset="0.4" stop-color="#c9c9e7"/><stop offset="0.49" stop-color="#ffffff"/><stop offset="0.58" stop-color="#fccaca"/><stop offset="0.68" stop-color="#f89898"/><stop offset="0.78" stop-color="#f46666"/><stop offset="0.88" stop-color="#f03236"/><stop offset="0.95" stop-color="#ee1c24"/><stop offset="1" stop-color="#e92028"/></linearGradient><linearGradient id="g2" x1="0" x2="1" y1="0" y2="0"><stop offset="0" stop-color="#1b58b2"/><stop offset="0.15" stop-color="#1757ac"/><stop offset="0.3" stop-color="#124684"/><stop offset="0.42" stop-color="#15263a"/><stop offset="0.5" stop-color="#151515"/><stop offset="0.58" stop-color="#4c4c28"/><stop offset="0.7" stop-color="#96963e"/><stop offset="0.85" stop-color="#cece50"/><stop offset="0.95" stop-color="#e8e858"/><stop offset="1" stop-color="#e0e058"/></linearGradient></defs>
<rect x="736.8" y="196.4" width="182" height="25" fill="url(#g1)" stroke="#4a4a60" stroke-width="1.4"/>
<line x1="765.8" y1="221.4" x2="765.8" y2="230" stroke="#555" stroke-width="1.3"/>
<line x1="793.5" y1="221.4" x2="793.5" y2="230" stroke="#555" stroke-width="1.3"/>
<line x1="820.8" y1="221.4" x2="820.8" y2="230" stroke="#555" stroke-width="1.3"/>
<line x1="849.2" y1="221.4" x2="849.2" y2="230" stroke="#555" stroke-width="1.3"/>
<line x1="877.0" y1="221.4" x2="877.0" y2="230" stroke="#555" stroke-width="1.3"/>
<line x1="905.4" y1="221.4" x2="905.4" y2="230" stroke="#555" stroke-width="1.3"/>
<g font-family="Liberation Sans, sans-serif" font-size="24.6" fill="#161616" text-anchor="middle">
<text x="755.0" y="257">-4</text>
<text x="784.9" y="257">-3</text>
<text x="814.7" y="257">-2</text>
<text x="843.6" y="257">-1</text>
<text x="877.9" y="257">0</text>
<text x="906.4" y="257">1</text>
</g>
<g font-family="Liberation Sans, sans-serif" font-size="31" fill="#161616" text-anchor="middle">
<text x="830.8" y="285.6">Log<tspan dy="10.5" font-size="17">2</tspan><tspan dy="-10.5"> normalized</tspan></text>
<text x="831.6" y="322.5">intensity (a.u.)</text>
</g>
<rect x="736.8" y="341.2" width="182" height="24.6" fill="url(#g2)" stroke="#4a4a55" stroke-width="1.4"/>
<line x1="737.2" y1="366" x2="737.2" y2="374" stroke="#555" stroke-width="1.3"/>
<line x1="918.3" y1="366" x2="918.3" y2="374" stroke="#555" stroke-width="1.3"/>
<g font-family="Liberation Sans, sans-serif" fill="#161616">
<text x="738.5" y="399.2" font-size="24" text-anchor="middle">0</text>
<text x="917.8" y="399.2" font-size="24" text-anchor="middle">1</text>
<text x="815.5" y="400.9" font-size="30.5">R<tspan dy="-9.7" font-size="16">2</tspan></text>
</g>
<g font-family="Liberation Sans, sans-serif" font-size="26.4" letter-spacing="0.3">
<text x="732.3" y="452.0" fill="#3e519c">R<tspan dy="-8.5" font-size="16">2</tspan><tspan dy="8.5"> 0.2 - 5.4*10</tspan><tspan dy="-8.5" font-size="16">5</tspan></text>
<text x="732.3" y="477.8" fill="#207045">R<tspan dy="-8.5" font-size="16">2</tspan><tspan dy="8.5"> 0.2 - 10.9*10</tspan><tspan dy="-8.5" font-size="16">5</tspan></text>
<text x="732.3" y="503.0" fill="#c0253f">R<tspan dy="-8.5" font-size="16">2</tspan><tspan dy="8.5"> 1.1 - 10.9*10</tspan><tspan dy="-8.5" font-size="16">5</tspan></text>
</g>
<rect x="734.8" y="540.2" width="195.7" height="190.1" fill="none" stroke="#929292" stroke-width="1.3"/>
<g font-family="Liberation Sans, sans-serif" font-size="27.4" fill="#161616" text-anchor="end">
<line x1="725.4" y1="540.2" x2="734.8" y2="540.2" stroke="#8c8c8c" stroke-width="1.3"/>
<text x="721.2" y="549.1">0.025</text>
<line x1="725.4" y1="578.2" x2="734.8" y2="578.2" stroke="#8c8c8c" stroke-width="1.3"/>
<text x="721.2" y="587.1">0.02</text>
<line x1="725.4" y1="616.3" x2="734.8" y2="616.3" stroke="#8c8c8c" stroke-width="1.3"/>
<text x="721.2" y="625.2">0.015</text>
<line x1="725.4" y1="654.3" x2="734.8" y2="654.3" stroke="#8c8c8c" stroke-width="1.3"/>
<text x="721.2" y="663.2">0.01</text>
<line x1="725.4" y1="692.3" x2="734.8" y2="692.3" stroke="#8c8c8c" stroke-width="1.3"/>
<text x="721.2" y="701.2">0.005</text>
<line x1="725.4" y1="730.3" x2="734.8" y2="730.3" stroke="#8c8c8c" stroke-width="1.3"/>
<text x="721.2" y="739.2">0</text>
</g>
<line x1="738.3" y1="730.3" x2="738.3" y2="740.1" stroke="#8c8c8c" stroke-width="1.3"/>
<line x1="752.9" y1="730.3" x2="752.9" y2="740.1" stroke="#8c8c8c" stroke-width="1.3"/>
<line x1="825.4" y1="730.3" x2="825.4" y2="740.1" stroke="#8c8c8c" stroke-width="1.3"/>
<line x1="915.0" y1="730.3" x2="915.0" y2="740.1" stroke="#8c8c8c" stroke-width="1.3"/>
<g font-family="Liberation Sans, sans-serif" font-size="27.4" fill="#161616" text-anchor="middle">
<text x="717.9" y="766.7">0.2</text>
<text x="758.8" y="766.7">1.1</text>
<text x="825.9" y="766.7">5.4</text>
<text x="908.5" y="766.7">10.9</text>
</g>
<text font-family="Liberation Sans, sans-serif" font-size="27" fill="#161616" text-anchor="middle" x="830.3" y="535.9">Inositol-1-P</text>
<text font-family="Liberation Sans, sans-serif" font-size="30.7" fill="#161616" text-anchor="middle" transform="translate(631.4,627.8) rotate(-90)">Norm. intensity</text>
<line x1="734.8" y1="704.9" x2="930.5" y2="625.2" stroke="#cc3350" stroke-width="1.8"/>
<line x1="734.8" y1="714.7" x2="930.5" y2="620.8" stroke="#256343" stroke-width="1.8"/>
<line x1="734.8" y1="726.9" x2="930.5" y2="540.4" stroke="#3e4884" stroke-width="1.8"/>
<circle cx="738.4" cy="724.0" r="4.9" fill="#0a0a0a"/>
<circle cx="752.8" cy="711.9" r="4.9" fill="#0a0a0a"/>
<path d="M824.0 631.1V653.8M821.2 631.1h5.6M821.2 653.8h5.6" stroke="#555" stroke-width="1.5" fill="none"/>
<circle cx="824.0" cy="642.5" r="4.9" fill="#0a0a0a"/>
<path d="M912.7 632.0V653.8M909.9 632.0h5.6M909.9 653.8h5.6" stroke="#555" stroke-width="1.5" fill="none"/>
<circle cx="912.7" cy="643.1" r="4.9" fill="#0a0a0a"/>
<g font-family="Liberation Sans, sans-serif" font-size="22.8" text-anchor="end">
<text x="895.7" y="561.5" fill="#42559e">0.999</text>
<text x="925.0" y="700.9" fill="#217246">0.788</text>
<text x="924.0" y="723.4" fill="#c22a46">0.687</text>
</g>
<rect x="734.8" y="814.0" width="195.7" height="191.2" fill="none" stroke="#929292" stroke-width="1.3"/>
<g font-family="Liberation Sans, sans-serif" font-size="27.4" fill="#161616" text-anchor="end">
<line x1="725.4" y1="814.0" x2="734.8" y2="814.0" stroke="#8c8c8c" stroke-width="1.3"/>
<text x="717.1" y="824.4">0.06</text>
<line x1="725.4" y1="878.1" x2="734.8" y2="878.1" stroke="#8c8c8c" stroke-width="1.3"/>
<text x="717.1" y="888.5">0.04</text>
<line x1="725.4" y1="942.0" x2="734.8" y2="942.0" stroke="#8c8c8c" stroke-width="1.3"/>
<text x="717.1" y="952.4">0.02</text>
<line x1="725.4" y1="1005.2" x2="734.8" y2="1005.2" stroke="#8c8c8c" stroke-width="1.3"/>
<text x="717.1" y="1015.6">0</text>
</g>
<line x1="738.1" y1="1005.2" x2="738.1" y2="1015.0" stroke="#8c8c8c" stroke-width="1.3"/>
<line x1="752.7" y1="1005.2" x2="752.7" y2="1015.0" stroke="#8c8c8c" stroke-width="1.3"/>
<line x1="823.1" y1="1005.2" x2="823.1" y2="1015.0" stroke="#8c8c8c" stroke-width="1.3"/>
<line x1="912.7" y1="1005.2" x2="912.7" y2="1015.0" stroke="#8c8c8c" stroke-width="1.3"/>
<g font-family="Liberation Sans, sans-serif" font-size="27.4" fill="#161616" text-anchor="middle">
<text x="717.9" y="1041.6">0.2</text>
<text x="758.8" y="1041.6">1.1</text>
<text x="825.9" y="1041.6">5.4</text>
<text x="908.5" y="1041.6">10.9</text>
</g>
<text font-family="Liberation Sans, sans-serif" font-size="27" fill="#161616" text-anchor="middle" x="826.9" y="806.9">Guanine</text>
<text font-family="Liberation Sans, sans-serif" font-size="30.7" fill="#161616" text-anchor="middle" transform="translate(631.4,898.5) rotate(-90)">Norm. intensity</text>
<line x1="734.8" y1="996.0" x2="930.5" y2="831.0" stroke="#cc3350" stroke-width="2.2"/>
<line x1="734.8" y1="997.2" x2="930.5" y2="831.3" stroke="#2c3a52" stroke-width="2.2"/>
<circle cx="738.0" cy="999.6" r="4.9" fill="#0a0a0a"/>
<circle cx="752.6" cy="980.1" r="4.9" fill="#0a0a0a"/>
<path d="M823.7 909.5V936.1M820.9 909.5h5.6M820.9 936.1h5.6" stroke="#555" stroke-width="1.5" fill="none"/>
<circle cx="823.7" cy="922.8" r="4.9" fill="#0a0a0a"/>
<path d="M912.5 826.8V866.1M909.7 826.8h5.6M909.7 866.1h5.6" stroke="#555" stroke-width="1.5" fill="none"/>
<circle cx="912.5" cy="846.6" r="4.9" fill="#0a0a0a"/>
<g font-family="Liberation Sans, sans-serif" font-size="22.8" text-anchor="end">
<text x="894.2" y="836.3" fill="#42559e">0.991</text>
<text x="925.0" y="971.8" fill="#217246">0.998</text>
<text x="925.0" y="997.2" fill="#c22a46">0.999</text>
</g>
<rect x="734.8" y="1095.0" width="195.7" height="190.5" fill="none" stroke="#929292" stroke-width="1.3"/>
<g font-family="Liberation Sans, sans-serif" font-size="27.4" fill="#161616" text-anchor="end">
<line x1="725.4" y1="1095.0" x2="734.8" y2="1095.0" stroke="#8c8c8c" stroke-width="1.3"/>
<text x="713.4" y="1104.0">0.5</text>
<line x1="725.4" y1="1133.0" x2="734.8" y2="1133.0" stroke="#8c8c8c" stroke-width="1.3"/>
<text x="713.4" y="1142.0">0.4</text>
<line x1="725.4" y1="1170.9" x2="734.8" y2="1170.9" stroke="#8c8c8c" stroke-width="1.3"/>
<text x="713.4" y="1179.9">0.3</text>
<line x1="725.4" y1="1209.2" x2="734.8" y2="1209.2" stroke="#8c8c8c" stroke-width="1.3"/>
<text x="713.4" y="1218.2">0.2</text>
<line x1="725.4" y1="1247.6" x2="734.8" y2="1247.6" stroke="#8c8c8c" stroke-width="1.3"/>
<text x="713.4" y="1256.6">0.1</text>
<line x1="725.4" y1="1285.5" x2="734.8" y2="1285.5" stroke="#8c8c8c" stroke-width="1.3"/>
<text x="713.4" y="1294.5">0</text>
</g>
<line x1="738.1" y1="1285.5" x2="738.1" y2="1295.3" stroke="#8c8c8c" stroke-width="1.3"/>
<line x1="752.8" y1="1285.5" x2="752.8" y2="1295.3" stroke="#8c8c8c" stroke-width="1.3"/>
<line x1="821.7" y1="1285.5" x2="821.7" y2="1295.3" stroke="#8c8c8c" stroke-width="1.3"/>
<line x1="910.2" y1="1285.5" x2="910.2" y2="1295.3" stroke="#8c8c8c" stroke-width="1.3"/>
<g font-family="Liberation Sans, sans-serif" font-size="27.4" fill="#161616" text-anchor="middle">
<text x="717.9" y="1321.9">0.2</text>
<text x="758.8" y="1321.9">1.1</text>
<text x="825.9" y="1321.9">5.4</text>
<text x="908.5" y="1321.9">10.9</text>
</g>
<text font-family="Liberation Sans, sans-serif" font-size="27" fill="#161616" text-anchor="middle" x="831.1" y="1087.8">Succinic acid</text>
<text font-family="Liberation Sans, sans-serif" font-size="30.7" fill="#161616" text-anchor="middle" transform="translate(631.4,1183.3) rotate(-90)">Norm. intensity</text>
<line x1="734.8" y1="1270.2" x2="930.5" y2="1152.6" stroke="#cc3350" stroke-width="1.8"/>
<line x1="734.8" y1="1277.1" x2="930.5" y2="1150.1" stroke="#256343" stroke-width="1.8"/>
<line x1="734.8" y1="1280.5" x2="930.5" y2="1109.1" stroke="#3e4884" stroke-width="1.8"/>
<circle cx="738.0" cy="1283.5" r="4.9" fill="#0a0a0a"/>
<circle cx="752.4" cy="1265.9" r="4.9" fill="#0a0a0a"/>
<path d="M823.4 1187.8V1222.2M820.6 1187.8h5.6M820.6 1222.2h5.6" stroke="#555" stroke-width="1.5" fill="none"/>
<circle cx="823.4" cy="1205.0" r="4.9" fill="#0a0a0a"/>
<path d="M912.5 1127.4V1208.6M909.7 1127.4h5.6M909.7 1208.6h5.6" stroke="#555" stroke-width="1.5" fill="none"/>
<circle cx="912.5" cy="1168.4" r="4.9" fill="#0a0a0a"/>
<g font-family="Liberation Sans, sans-serif" font-size="22.8" text-anchor="end">
<text x="895.2" y="1117.5" fill="#42559e">0.997</text>
<text x="924.4" y="1247.7" fill="#217246">0.962</text>
<text x="923.4" y="1274.2" fill="#c22a46">0.957</text>
</g>
<rect x="734.8" y="1374.7" width="195.7" height="190.8" fill="none" stroke="#929292" stroke-width="1.3"/>
<g font-family="Liberation Sans, sans-serif" font-size="27.4" fill="#161616" text-anchor="end">
<line x1="725.4" y1="1374.7" x2="734.8" y2="1374.7" stroke="#8c8c8c" stroke-width="1.3"/>
<text x="716.0" y="1384.2">0.5</text>
<line x1="725.4" y1="1406.5" x2="734.8" y2="1406.5" stroke="#8c8c8c" stroke-width="1.3"/>
<text x="716.0" y="1416.0">0.4</text>
<line x1="725.4" y1="1438.3" x2="734.8" y2="1438.3" stroke="#8c8c8c" stroke-width="1.3"/>
<text x="716.0" y="1447.8">0.3</text>
<line x1="725.4" y1="1470.1" x2="734.8" y2="1470.1" stroke="#8c8c8c" stroke-width="1.3"/>
<text x="716.0" y="1479.6">0.2</text>
<line x1="725.4" y1="1501.9" x2="734.8" y2="1501.9" stroke="#8c8c8c" stroke-width="1.3"/>
<text x="716.0" y="1511.4">0.1</text>
<line x1="725.4" y1="1533.7" x2="734.8" y2="1533.7" stroke="#8c8c8c" stroke-width="1.3"/>
<text x="716.0" y="1543.2">0</text>
<line x1="725.4" y1="1565.5" x2="734.8" y2="1565.5" stroke="#8c8c8c" stroke-width="1.3"/>
<text x="716.0" y="1575.0">-0.1</text>
</g>
<line x1="738.5" y1="1565.5" x2="738.5" y2="1575.3" stroke="#8c8c8c" stroke-width="1.3"/>
<line x1="752.7" y1="1565.5" x2="752.7" y2="1575.3" stroke="#8c8c8c" stroke-width="1.3"/>
<line x1="823.6" y1="1565.5" x2="823.6" y2="1575.3" stroke="#8c8c8c" stroke-width="1.3"/>
<line x1="912.4" y1="1565.5" x2="912.4" y2="1575.3" stroke="#8c8c8c" stroke-width="1.3"/>
<g font-family="Liberation Sans, sans-serif" font-size="27.4" fill="#161616" text-anchor="middle">
<text x="717.9" y="1601.9">0.2</text>
<text x="758.8" y="1601.9">1.1</text>
<text x="825.9" y="1601.9">5.4</text>
<text x="908.5" y="1601.9">10.9</text>
</g>
<text font-family="Liberation Sans, sans-serif" font-size="27" fill="#161616" text-anchor="middle" x="825.9" y="1368.6">Proline</text>
<text font-family="Liberation Sans, sans-serif" font-size="30.7" fill="#161616" text-anchor="middle" transform="translate(631.4,1461.7) rotate(-90)">Norm. intensity</text>
<line x1="734.8" y1="1512.3" x2="930.5" y2="1463.0" stroke="#cc3350" stroke-width="1.8"/>
<line x1="734.8" y1="1521.8" x2="930.5" y2="1460.3" stroke="#256343" stroke-width="1.8"/>
<line x1="734.8" y1="1533.4" x2="930.5" y2="1382.2" stroke="#3e4884" stroke-width="1.8"/>
<circle cx="738.3" cy="1530.8" r="4.9" fill="#0a0a0a"/>
<circle cx="752.7" cy="1521.3" r="4.9" fill="#0a0a0a"/>
<path d="M823.8 1458.0V1472.3M821.0 1458.0h5.6M821.0 1472.3h5.6" stroke="#555" stroke-width="1.5" fill="none"/>
<circle cx="823.8" cy="1464.9" r="4.9" fill="#0a0a0a"/>
<path d="M912.7 1437.2V1522.1M909.9 1437.2h5.6M909.9 1522.1h5.6" stroke="#555" stroke-width="1.5" fill="none"/>
<circle cx="912.7" cy="1479.6" r="4.9" fill="#0a0a0a"/>
<g font-family="Liberation Sans, sans-serif" font-size="22.8" text-anchor="end">
<text x="895.7" y="1397.8" fill="#42559e">0.999</text>
<text x="902.8" y="1535.2" fill="#217246">0.621</text>
<text x="904.0" y="1559.5" fill="#c22a46">0.443</text>
</g>
<text font-family="Liberation Sans, sans-serif" font-size="30.75" fill="#161616" x="584" y="1636.8">Extract of cells measured (*10<tspan dy="-10" font-size="18">5</tspan><tspan dy="10">)</tspan></text>
</g>
</svg>
</body>
</html>
